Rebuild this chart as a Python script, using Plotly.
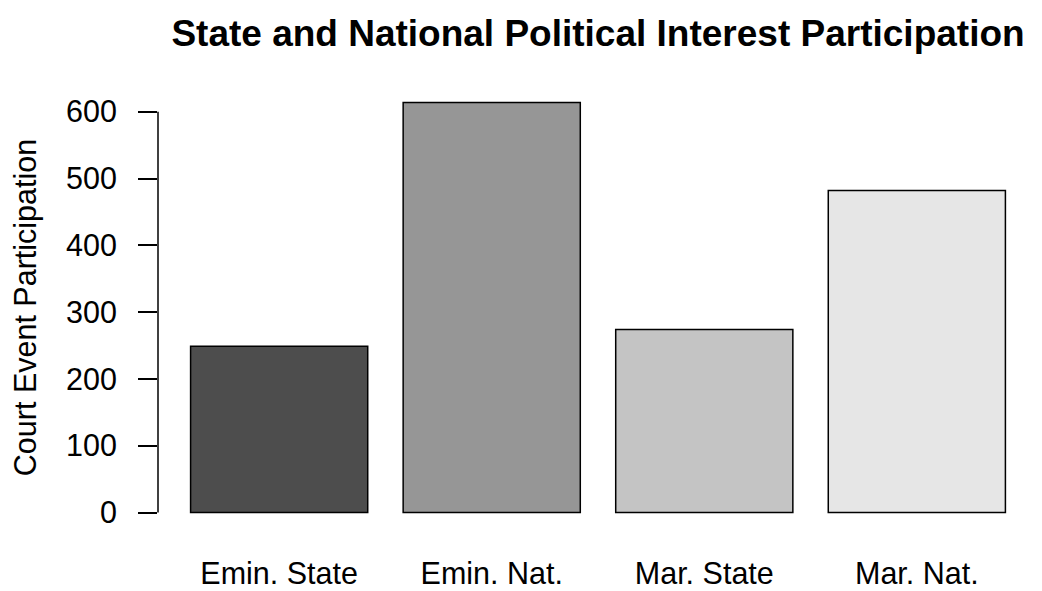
import plotly.graph_objects as go

categories = ["Emin. State", "Emin. Nat.", "Mar. State", "Mar. Nat."]
values = [249, 614, 274, 482]
colors = ["#4D4D4D", "#969696", "#C4C4C4", "#E6E6E6"]
yticks = [0, 100, 200, 300, 400, 500, 600]

font = "Liberation Sans, Arial, Helvetica, sans-serif"
FS = 30.5

fig = go.Figure(go.Bar(
    x=categories, y=values,
    marker=dict(color=colors, line=dict(color="black", width=1.5)),
))

W, H = 1034, 583
L, R, T, B = 150, 4, 78, 62
fig.update_layout(
    width=W, height=H,
    margin=dict(l=L, r=R, t=T, b=B, autoexpand=False),
    paper_bgcolor="white", plot_bgcolor="white",
    bargap=1 - 1 / 1.2,
    showlegend=False,
    font=dict(family=font, size=FS, color="black"),
    title=dict(text="<b>State and National Political Interest Participation</b>",
               x=(L + (W - R)) / 2 / W, xanchor="center",
               y=1 - 25 / H, yanchor="middle",
               font=dict(size=37, family=font, color="black")),
)
fig.update_xaxes(
    type="category", range=[-0.57, 3.57], automargin=False,
    showline=False, showgrid=False, zeroline=False,
    ticks="", ticklen=0, ticklabelstandoff=23,
    tickfont=dict(size=FS, family=font),
)
fig.update_yaxes(
    range=[-24.56, 638.56], automargin=False,
    tickvals=yticks, ticktext=[str(v) for v in yticks],
    showline=False, showgrid=False, zeroline=False,
    ticks="outside", ticklen=19, tickwidth=1.5, tickcolor="black",
    ticklabelstandoff=15,
    tickfont=dict(size=FS, family=font),
    title=dict(text="Court Event Participation", font=dict(size=FS, family=font), standoff=20),
)
fig.add_shape(type="line", xref="paper", yref="y", x0=0, x1=0,
              y0=yticks[0], y1=yticks[-1], line=dict(color="black", width=1.5))

fig.write_html("out.html")
